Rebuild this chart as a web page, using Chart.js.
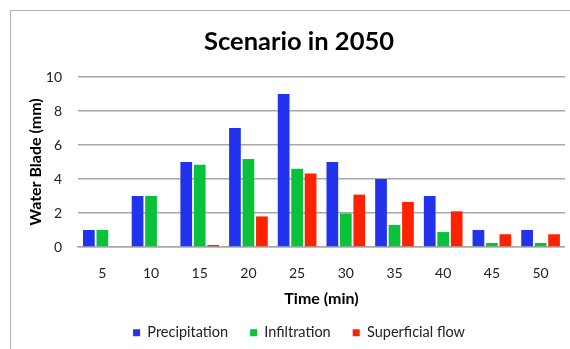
<!DOCTYPE html>
<html>
<head>
<meta charset="utf-8">
<script src="https://cdn.jsdelivr.net/npm/chart.js@4/dist/chart.umd.min.js"></script>
<style>
  html, body { margin: 0; padding: 0; background: #fff; overflow: hidden; }
  #frame {
    position: absolute; left: 10px; top: 10px;
    width: 576px; height: 339px;
    border-left: 1px solid #b4b4b4; border-top: 1px solid #b4b4b4;
  }
  #wrap { position: absolute; left: 0; top: 0; width: 556px; height: 339px; }
</style>
</head>
<body>
<div id="frame"><div id="wrap"><canvas id="myChart"></canvas></div></div>
<script>
// Data
const timeLabels = ["5", "10", "15", "20", "25", "30", "35", "40", "45", "50"];
const precipitation = [1, 3, 5, 7, 9, 5, 4, 3, 1, 1];
const infiltration = [1, 3, 4.84, 5.18, 4.6, 1.97, 1.3, 0.88, 0.24, 0.24];
const superficialFlow = [0, 0, 0.12, 1.8, 4.32, 3.08, 2.65, 2.1, 0.75, 0.75];

const FONT = "Lato, 'Open Sans', sans-serif";

const ctx = document.getElementById("myChart");
const myChart = new Chart(ctx, {
  type: "bar",
  data: {
    labels: timeLabels,
    datasets: [
      { label: "Precipitation", data: precipitation, backgroundColor: "#2233EE" },
      { label: "Infiltration", data: infiltration, backgroundColor: "#0AC23A" },
      { label: "Superficial flow", data: superficialFlow, backgroundColor: "#FF2200" },
    ],
  },
  options: {
    responsive: true,
    maintainAspectRatio: false,
    animation: false,
    datasets: {
      bar: { categoryPercentage: 0.83, barPercentage: 0.87 },
    },
    layout: { padding: { left: 20, right: 0, top: 0, bottom: 0 } },
    plugins: {
      title: {
        display: true,
        text: "Scenario in 2050",
        color: "#000",
        font: { family: FONT, size: 25.5, weight: "bold" },
        padding: { top: 15.7, bottom: 19.7 },
      },
      legend: {
        position: "bottom",
        labels: {
          boxWidth: 7,
          boxHeight: 7,
          padding: 22,
          color: "#222",
          font: { family: FONT, size: 14.5 },
        },
      },
      tooltip: { enabled: false },
    },
    scales: {
      x: {
        grid: { display: false, drawTicks: false },
        border: { color: "#a8a8a8", width: 1.5 },
        ticks: {
          color: "#222",
          padding: 18.3,
          maxRotation: 0,
          minRotation: 0,
          font: { family: FONT, size: 14 },
        },
        title: {
          display: true,
          text: "Time (min)",
          color: "#000",
          font: { family: FONT, size: 16, weight: "bold", lineHeight: 0.5625 },
          padding: { top: 0, bottom: 0 },
        },
        afterFit: (scale) => { scale.height = 56.5; },
      },
      y: {
        min: 0,
        max: 10,
        grid: { color: "#a8a8a8", lineWidth: 1.5, drawTicks: false },
        border: { display: false },
        ticks: {
          stepSize: 2,
          color: "#222",
          padding: 16,
          font: { family: FONT, size: 14 },
        },
        title: {
          display: true,
          text: "Water Blade (mm)",
          color: "#000",
          font: { family: FONT, size: 16, weight: "bold", lineHeight: 0.5 },
          padding: { top: 0.7, bottom: 0 },
        },
        afterFit: (scale) => { scale.width = 47; },
      },
    },
  },
});
</script>
</body>
</html>
